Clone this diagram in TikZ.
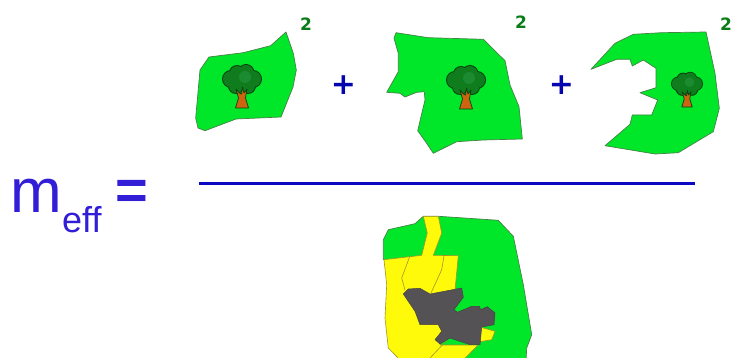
\documentclass[tikz,border=0pt]{standalone}
\usepackage{fontspec}
\setmainfont{Liberation Sans}
\newfontfamily\dejabold[BoldFont={DejaVu Sans Bold}]{DejaVu Sans}
\definecolor{patchgreen}{RGB}{0,230,40}
\definecolor{patchedge}{RGB}{70,130,70}
\definecolor{patchyellow}{RGB}{255,250,10}
\definecolor{yellowedge}{RGB}{160,150,40}
\definecolor{habgray}{RGB}{85,82,85}
\definecolor{expo}{RGB}{10,125,25}
\definecolor{plusblue}{RGB}{5,5,175}
\definecolor{barblue}{RGB}{10,10,195}
\definecolor{formula}{RGB}{50,30,215}
\definecolor{crown}{RGB}{15,125,30}
\definecolor{crownlight}{RGB}{28,138,48}
\definecolor{crownedge}{RGB}{5,65,15}
\definecolor{trunk}{RGB}{205,100,15}
\tikzset{
  patch/.style={fill=patchgreen,draw=patchedge,line width=0.7pt,line join=round},
  yellowpatch/.style={fill=patchyellow,draw=yellowedge,line width=0.6pt,line join=round},
  yellowline/.style={draw=yellowedge,line width=0.6pt},
  graypatch/.style={fill=habgray,draw=habgray!80!black,line width=0.5pt,line join=round},
  expolabel/.style={font=\dejabold\bfseries\fontsize{17}{17}\selectfont,text=expo,inner sep=0pt},
  pluslabel/.style={font=\dejabold\bfseries\fontsize{30}{30}\selectfont,text=plusblue,inner sep=0pt},
  formulatext/.style={text=formula,inner sep=0pt,anchor=base west},
  treepic/.pic={
    \foreach \cx/\cy/\r in {-11/-29/8,-5/-35/7,4/-35.5/7.5,11/-29/8,6/-22/7,-6/-22/7,0/-28/10}
      \fill[crownedge] (\cx,\cy) circle ({\r+1});
    \foreach \cx/\cy/\r in {-11/-29/8,-5/-35/7,4/-35.5/7.5,11/-29/8,6/-22/7,-6/-22/7,0/-28/10}
      \fill[crown] (\cx,\cy) circle (\r);
    \fill[crownlight] (3,-31) circle (6);
    \draw[fill=trunk,draw=crownedge,line width=0.7pt,line join=round]
      (-6.5,0) -- (-3.5,-10) -- (-6,-19) -- (-2.5,-15) -- (-0.5,-14) -- (0.5,-21) -- (2,-15) -- (5,-19) -- (3.5,-10) -- (6.5,0) -- cycle;
  }
}
\begin{document}
\begin{tikzpicture}[x=1pt,y=-1pt]
\useasboundingbox (0,0) rectangle (733,358);
\fill[white] (0,0) rectangle (733,358);
% first patch
\draw[patch] (286,32) -- (293.3,53.3) -- (296.3,70) -- (293,87) -- (281,117) -- (236,119) -- (205,130.7) -- (198,128) -- (195.7,118) -- (200,70) -- (209,57) -- (243.3,52.7) -- (270.7,45.7) -- cycle;
\pic at (242,108) {treepic};
\node[expolabel] (two1) at (306,24) {2};
\node[pluslabel] (plus1) at (343.5,85) {+};
% second patch
\draw[patch] (396,32.7) -- (428.3,37.7) -- (483.3,39.3) -- (505,60.7) -- (510,85) -- (519,106.7) -- (522.3,139) -- (483.3,140) -- (456.7,141.7) -- (433.3,153.3) -- (426.7,143.3) -- (417.7,130.7) -- (425,100) -- (424.3,91.7) -- (416.7,92.3) -- (405,97) -- (400,93.3) -- (386.7,92.3) -- (398.3,71.7) -- (398.3,53.3) -- (394,38.3) -- cycle;
\pic at (466,109) {treepic};
\node[expolabel] (two2) at (521,22) {2};
\node[pluslabel] (plus2) at (561.5,85) {+};
% third patch
\draw[patch] (706,32) -- (715,73.3) -- (719.3,108.3) -- (713.3,131.7) -- (678.3,152.7) -- (655,154) -- (605,145.7) -- (630,124.3) -- (632.3,115) -- (651.7,115) -- (657.7,100) -- (640,92.7) -- (656,87.7) -- (656,68.3) -- (643.3,60) -- (632.3,66) -- (630,59.3) -- (616.7,59.3) -- (591,69.3) -- (615,43.3) -- (633.3,34.3) -- (661.7,32.7) -- cycle;
\pic[scale=0.8] at (687,107) {treepic};
\node[expolabel] (two3) at (726,24) {2};
% formula
\node[formulatext,font=\fontsize{62}{62}\selectfont] (m) at (10.5,212) {m};
\node[formulatext,font=\fontsize{36}{36}\selectfont] (eff) at (62,233) {eff};
\node[formulatext,font=\bfseries\fontsize{56}{56}\selectfont] (eq) at (115,209) {=};
% fraction bar
\coordinate (barL) at (199,184);
\coordinate (barR) at (695,184);
\draw[barblue,line width=3pt] (barL) -- (barR);
% bottom patch
\draw[patch] (423.3,216.3) -- (438.3,216.3) -- (498.3,220.3) -- (513.3,236.3) -- (523.3,284.7) -- (531.7,334.7) -- (526.7,348) -- (526,360) -- (400,360) -- (386,259.7) -- (383.3,259.7) -- (383.3,239.7) -- (388.3,229.7) -- (415,223.7) -- cycle;
\draw[yellowpatch] (423.3,216.3) -- (438.3,216.3) -- (441.7,233) -- (433.3,255.3) -- (458.3,255.7) -- (455,290) -- (440,345) -- (478,345) -- (463.3,360) -- (400,360) -- (388.3,348) -- (385,318) -- (386.7,284.7) -- (384,259.7) -- (421.7,255.3) -- (427.3,233) -- cycle;
\draw[yellowpatch] (481,327.3) -- (495,331.3) -- (491.7,339.7) -- (478,342) -- cycle;
\draw[yellowline] (410,255.7) -- (401.7,278) -- (405,290);
\draw[yellowline] (444,255.7) -- (441.7,269.7) -- (431,293);
\draw[yellowline] (448.3,338.7) -- (430,358);
\draw[graypatch] (403.3,294) -- (408.3,289) -- (420,288.3) -- (430,294) -- (461.7,288) -- (463.3,297.3) -- (454,309.7) -- (457.3,312.3) -- (471.7,306.3) -- (479.3,306.3) -- (480.7,309.7) -- (487.3,306.7) -- (495,313) -- (494,324.7) -- (481.7,327) -- (480,344.7) -- (470,344.7) -- (450,338) -- (440,344) -- (435,339.7) -- (441.7,331.3) -- (438.3,324.7) -- (420,324.7) -- (415,311.3) -- cycle;
\end{tikzpicture}
\end{document}
